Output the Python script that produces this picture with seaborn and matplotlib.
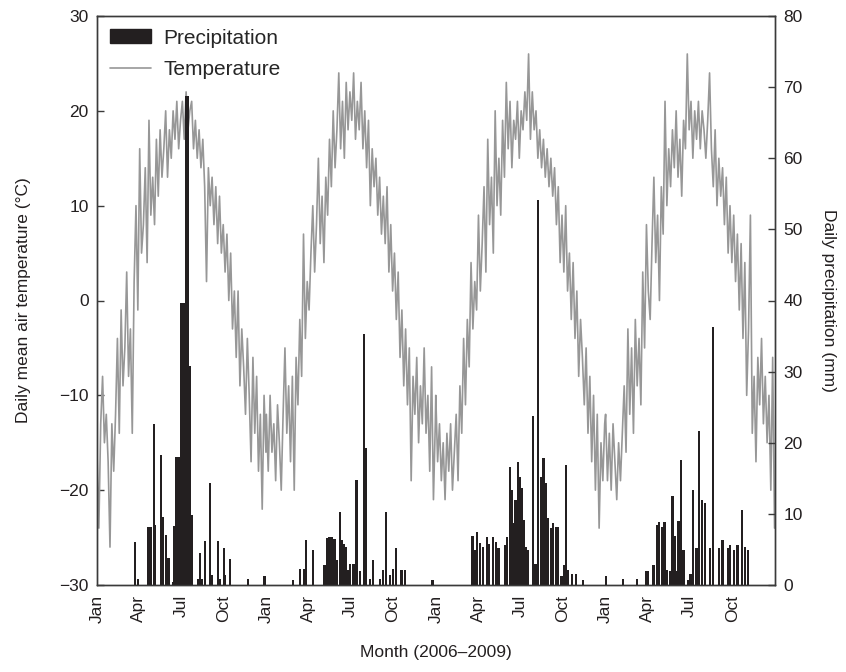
import matplotlib
matplotlib.use("Agg")
import matplotlib.pyplot as plt
from matplotlib.patches import Patch
from matplotlib.lines import Line2D
import pandas as pd
import seaborn as sns

# ---------------- data ----------------
years = [2006, 2007, 2008, 2009]

# daily mean air temperature (degC), one reading every 4 days from 1 Jan
temp_2006 = [-16, -24, -13, -8, -15, -12, -17, -26, -13, -18,
             -12, -4, -14, -1, -9,
             -5, 3, -8, -3, -14,
             2, 10, -1, 16, 5,
             8, 14, 4, 19, 9, 13,
             8, 17, 11, 18, 13, 16,
             20, 13, 18, 15, 20, 17,
             21, 16, 19, 21, 17, 22, 18, 20,
             21, 16, 19, 15, 18, 14, 17,
             12, 2, 14, 10, 13,
             8, 12, 6, 11, 5, 8,
             3, 7, 0, 5, -3, 1,
             -6, 1, -9, -3, -7,
             -12, -4, -10, -17, -6, -14,
             -8, -18, -12, -22, -10, -16]
temp_2007 = [-12, -18, -10, -16, -13, -19, -11, -15, -20, -12,
             -5, -14, -9, -17, -8,
             -20, -6, -11, -2, -8,
             7, -4, 2, -1, 5, 10,
             3, 8, 15, 6, 11, 4,
             13, 9, 17, 12, 20, 14,
             18, 24, 16, 21, 15,
             23, 18, 22, 19, 24, 17,
             21, 18, 23, 16, 20,
             14, 19, 10, 16, 12,
             15, 9, 13, 7, 11,
             6, 12, 3, 8, 1,
             5, -2, 3, -6, -1, -9,
             -3, -11, -5, -19, -8,
             -12, -6, -15, -9, -13, -5,
             -14, -10, -18, -7, -21, -13]
temp_2008 = [-10, -17, -13, -19, -15, -21, -14, -18, -13, -20,
             -16, -12, -19, -9, -14,
             -4, -11, -2, -7, 4,
             -3, 2, -1, 9, 1, 6,
             12, 3, 17, 8, 13, 5,
             20, 10, 15, 9, 19, 13,
             23, 16, 21, 14, 19,
             17, 21, 15, 20, 18, 22,
             19, 26, 17, 22, 18,
             20, 15, 18, 14, 17,
             13, 16, 12, 15, 11,
             14, 8, 12, 4, 9,
             3, 10, 1, 5, -2, 4,
             -4, 1, -8, -2, -6,
             -11, -5, -14, -8, -17, -10,
             -20, -12, -24, -15, -19, -13]
temp_2009 = [-12, -19, -14, -20, -13, -17, -21, -15, -19, -14,
             -9, -16, -3, -12, -5,
             -14, -2, -9, -4, -11,
             3, -5, 8, 1, -2, 6,
             13, 4, 9, 0, 12, 7,
             21, 10, 16, 12, 18, 14,
             20, 13, 17, 11, 19,
             16, 26, 18, 21, 15, 20,
             17, 21, 16, 20, 18,
             15, 19, 24, 16, 12,
             18, 10, 15, 11, 14,
             8, 13, 5, 10, 4,
             9, 2, 7, -1, 6, -4,
             4, -10, -3, 9, -14,
             -8, -17, -6, -11, -4, -13,
             -8, -15, -10, -20, -6, -24]

# daily precipitation (mm): day of year (0 = 1 Jan) and amount
precip_day_2006 = [82, 88, 110, 113, 117, 122, 125, 138, 142, 148, 154, 163, 166,
                   170, 174, 177, 181, 184, 187, 190, 193, 196, 199, 201, 204,
                   217, 222, 227, 233, 243, 247, 260, 264, 273, 276, 287, 325, 361]
precip_mm_2006 = [6.0, 0.8, 8.1, 8.1, 8.1, 22.6, 8.4, 18.3, 9.6, 7.0, 3.8, 0.4, 8.3,
                  18.0, 18.0, 18.0, 39.6, 39.6, 39.6, 39.6, 68.7, 68.7, 30.8, 30.8, 9.8,
                  0.8, 4.5, 0.8, 6.2, 14.4, 1.4, 6.2, 0.8, 5.2, 1.4, 3.6, 0.8, 1.2]
precip_day_2007 = [57, 73, 81, 85, 100, 125, 130, 136, 142, 147, 151, 158, 163, 167,
                   172, 176, 181, 186, 190, 194, 201, 210, 215, 223, 230, 244, 251,
                   258, 266, 273, 280, 291, 298, 358]
precip_mm_2007 = [0.7, 2.3, 2.3, 6.3, 4.9, 2.8, 6.6, 6.8, 6.8, 6.4, 3.5, 10.3, 6.3, 5.8,
                  5.3, 2.1, 3.0, 3.0, 3.0, 14.8, 1.9, 35.3, 19.2, 0.9, 3.5, 0.9, 2.1,
                  10.2, 1.4, 2.3, 5.2, 2.1, 2.1, 0.7]
precip_day_2008 = [79, 84, 89, 95, 102, 111, 115, 124, 130, 135, 149, 154, 160, 165,
                   169, 172, 177, 181, 185, 189, 194, 199, 210, 215, 221, 226, 232,
                   237, 242, 248, 253, 259, 264, 271, 276, 280, 285, 294, 302, 318]
precip_mm_2008 = [6.9, 4.9, 7.4, 5.9, 5.3, 6.8, 5.8, 6.8, 6.1, 5.2, 5.6, 6.8, 16.6, 13.4,
                  8.7, 12.0, 17.3, 15.2, 13.6, 9.1, 5.4, 4.9, 23.7, 3.0, 54.2, 15.2, 17.8,
                  14.3, 9.4, 8.0, 8.7, 8.2, 8.2, 1.2, 2.8, 16.9, 2.1, 1.6, 1.6, 0.7]
precip_day_2009 = [1, 37, 67, 88, 92, 103, 110, 115, 121, 127, 132, 139, 144, 150, 153,
                   157, 162, 168, 178, 183, 188, 196, 202, 208, 214, 225, 231, 245,
                   252, 263, 268, 276, 284, 294, 301, 306]
precip_mm_2009 = [1.2, 0.9, 0.9, 1.9, 1.9, 2.8, 8.4, 8.9, 8.2, 8.9, 2.1, 1.9, 12.5, 6.9, 1.9,
                  9.0, 17.6, 4.9, 0.7, 1.6, 13.4, 5.2, 21.7, 12.0, 11.5, 5.2, 36.3, 5.2,
                  6.3, 5.2, 5.6, 4.9, 5.6, 10.5, 5.4, 4.9]

month_labels = ["Jan", "Apr", "Jul", "Oct"]
month_numbers = [1, 4, 7, 10]
temp_ticks = [-30, -20, -10, 0, 10, 20, 30]
precip_ticks = [0, 10, 20, 30, 40, 50, 60, 70, 80]

# ---------------- tables ----------------
temp_frames = []
for yr, vals in zip(years, [temp_2006, temp_2007, temp_2008, temp_2009]):
    d = pd.date_range(f"{yr}-01-01", periods=len(vals), freq="4D")
    temp_frames.append(pd.DataFrame({"date": d, "temp": vals}))
temp_df = pd.concat(temp_frames, ignore_index=True)

precip_frames = []
for yr, days, mm in zip(years,
                        [precip_day_2006, precip_day_2007, precip_day_2008, precip_day_2009],
                        [precip_mm_2006, precip_mm_2007, precip_mm_2008, precip_mm_2009]):
    d = pd.Timestamp(f"{yr}-01-01") + pd.to_timedelta(days, unit="D")
    precip_frames.append(pd.DataFrame({"date": d, "mm": mm}))
precip_df = pd.concat(precip_frames, ignore_index=True)

tick_dates = [pd.Timestamp(yr, m, 1) for yr in years for m in month_numbers]
tick_texts = month_labels * len(years)

# ---------------- style ----------------
sns.set_theme(style="ticks")
plt.rcParams["font.family"] = ["Liberation Sans", "DejaVu Sans"]
plt.rcParams["axes.unicode_minus"] = True

TEMP_COLOR = "#979797"
BAR_COLOR = "#231f20"
SPINE_COLOR = "#3a3a3a"
TEXT_COLOR = "#231f20"
FS = 12.5

fig = plt.figure(figsize=(8.46, 6.72), dpi=100)
ax = fig.add_axes([97 / 846, 1 - 585 / 672, (775 - 97) / 846, (585 - 16) / 672])

sns.lineplot(data=temp_df, x="date", y="temp", ax=ax, color=TEMP_COLOR,
             linewidth=1.2, estimator=None)

ax2 = ax.twinx()
ax2.bar(precip_df["date"], precip_df["mm"], width=4.8, color=BAR_COLOR,
        linewidth=0, align="center")

ax.set_xlim(pd.Timestamp("2006-01-01"), pd.Timestamp("2010-01-01"))
ax.set_ylim(-30, 30)
ax.set_yticks(temp_ticks)
ax2.set_ylim(0, 80)
ax2.set_yticks(precip_ticks)

ax.set_xticks(tick_dates)
ax.set_xticklabels(tick_texts, rotation=90, ha="center", va="top")

ax.tick_params(axis="x", length=0, pad=7, labelsize=FS, labelcolor=TEXT_COLOR)
ax.tick_params(axis="y", direction="in", length=5, width=1, labelsize=FS,
               colors=SPINE_COLOR, labelcolor=TEXT_COLOR, pad=6)
ax2.tick_params(axis="y", direction="in", length=5, width=1, labelsize=FS,
                colors=SPINE_COLOR, labelcolor=TEXT_COLOR, pad=6)

for a in (ax, ax2):
    for s in a.spines.values():
        s.set_visible(True)
        s.set_color(SPINE_COLOR)
        s.set_linewidth(1.0)

ax.set_xlabel("Month (2006\u20132009)", fontsize=FS, color=TEXT_COLOR, labelpad=16)
ax.set_ylabel("Daily mean air temperature (\u00b0C)", fontsize=FS, color=TEXT_COLOR,
              labelpad=20)
ax2.set_ylabel("Daily precipitation (mm)", fontsize=FS, color=TEXT_COLOR,
               rotation=270, labelpad=24)

handles = [Patch(facecolor=BAR_COLOR, edgecolor=BAR_COLOR),
           Line2D([], [], color=TEMP_COLOR, linewidth=1.2)]
ax2.legend(handles, ["Precipitation", "Temperature"], loc="upper left",
           frameon=False, fontsize=15, handlelength=2.0, handleheight=0.62,
           handletextpad=0.6, labelspacing=0.62, borderaxespad=0.15,
           borderpad=0.45)

fig.savefig("out.png", dpi=100)
